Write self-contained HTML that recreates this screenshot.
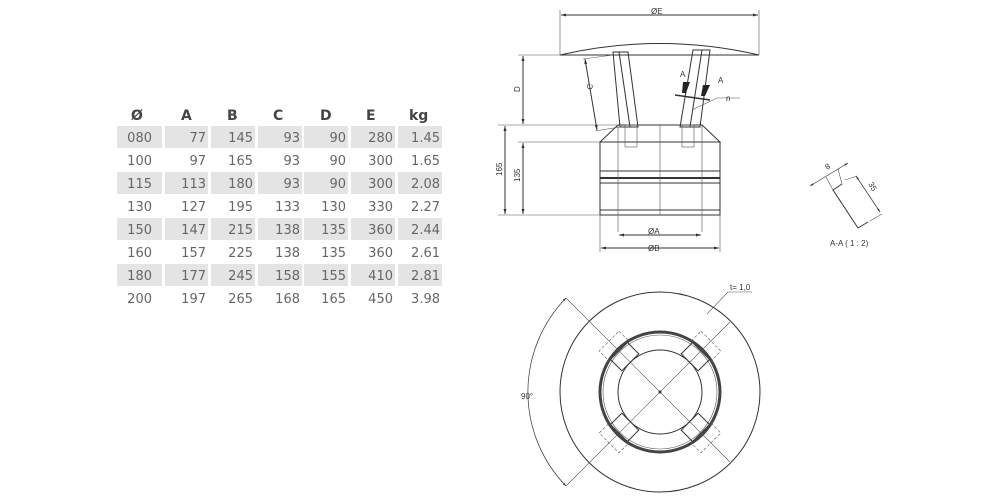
<!DOCTYPE html>
<html><head><meta charset="utf-8"><style>
html,body{margin:0;padding:0;background:#fff;}
svg{display:block;font-family:"Liberation Sans",sans-serif;}
.t{font-size:13px;fill:#666;text-anchor:end;font-family:"DejaVu Sans",sans-serif;}
.h{font-size:14px;font-weight:bold;fill:#444;font-family:"DejaVu Sans",sans-serif;}
.l{stroke:#333;stroke-width:1;fill:none;}
.th{stroke:#555;stroke-width:0.6;fill:none;}
.s{font-size:8px;fill:#333;}
</style></head><body>
<svg width="1000" height="500" viewBox="0 0 1000 500">
<defs><marker id="a" viewBox="0 0 10 10" refX="10" refY="5" markerWidth="6" markerHeight="5" orient="auto-start-reverse"><path d="M0,2 L10,5 L0,8z" fill="#333"/></marker></defs>
<g fill="#e4e4e4">
<rect x="117" y="126" width="45" height="22"/><rect x="165" y="126" width="43" height="22"/><rect x="211" y="126" width="44" height="22"/><rect x="258" y="126" width="44" height="22"/><rect x="304" y="126" width="44" height="22"/><rect x="351" y="126" width="44" height="22"/><rect x="398" y="126" width="44" height="22"/>
<rect x="117" y="172" width="45" height="22"/><rect x="165" y="172" width="43" height="22"/><rect x="211" y="172" width="44" height="22"/><rect x="258" y="172" width="44" height="22"/><rect x="304" y="172" width="44" height="22"/><rect x="351" y="172" width="44" height="22"/><rect x="398" y="172" width="44" height="22"/>
<rect x="117" y="218" width="45" height="22"/><rect x="165" y="218" width="43" height="22"/><rect x="211" y="218" width="44" height="22"/><rect x="258" y="218" width="44" height="22"/><rect x="304" y="218" width="44" height="22"/><rect x="351" y="218" width="44" height="22"/><rect x="398" y="218" width="44" height="22"/>
<rect x="117" y="264" width="45" height="22"/><rect x="165" y="264" width="43" height="22"/><rect x="211" y="264" width="44" height="22"/><rect x="258" y="264" width="44" height="22"/><rect x="304" y="264" width="44" height="22"/><rect x="351" y="264" width="44" height="22"/><rect x="398" y="264" width="44" height="22"/>
</g>
<g class="h"><text x="131" y="120">Ø</text><text x="181" y="120">A</text><text x="227" y="120">B</text><text x="273" y="120">C</text><text x="320" y="120">D</text><text x="366" y="120">E</text><text x="409" y="120">kg</text></g>
<g class="t">
<text x="152" y="142">080</text><text x="206" y="142">77</text><text x="253" y="142">145</text><text x="300" y="142">93</text><text x="346" y="142">90</text><text x="393" y="142">280</text><text x="440" y="142">1.45</text>
<text x="152" y="165">100</text><text x="206" y="165">97</text><text x="253" y="165">165</text><text x="300" y="165">93</text><text x="346" y="165">90</text><text x="393" y="165">300</text><text x="440" y="165">1.65</text>
<text x="152" y="188">115</text><text x="206" y="188">113</text><text x="253" y="188">180</text><text x="300" y="188">93</text><text x="346" y="188">90</text><text x="393" y="188">300</text><text x="440" y="188">2.08</text>
<text x="152" y="211">130</text><text x="206" y="211">127</text><text x="253" y="211">195</text><text x="300" y="211">133</text><text x="346" y="211">130</text><text x="393" y="211">330</text><text x="440" y="211">2.27</text>
<text x="152" y="234">150</text><text x="206" y="234">147</text><text x="253" y="234">215</text><text x="300" y="234">138</text><text x="346" y="234">135</text><text x="393" y="234">360</text><text x="440" y="234">2.44</text>
<text x="152" y="257">160</text><text x="206" y="257">157</text><text x="253" y="257">225</text><text x="300" y="257">138</text><text x="346" y="257">135</text><text x="393" y="257">360</text><text x="440" y="257">2.61</text>
<text x="152" y="280">180</text><text x="206" y="280">177</text><text x="253" y="280">245</text><text x="300" y="280">158</text><text x="346" y="280">155</text><text x="393" y="280">410</text><text x="440" y="280">2.81</text>
<text x="152" y="303">200</text><text x="206" y="303">197</text><text x="253" y="303">265</text><text x="300" y="303">168</text><text x="346" y="303">165</text><text x="393" y="303">450</text><text x="440" y="303">3.98</text>
</g>
<g class="l">
<path d="M560,55 Q660,32 759,55 Z"/>
<line x1="560" y1="10" x2="560" y2="55" class="th"/><line x1="759" y1="10" x2="759" y2="55" class="th"/>
<line x1="561" y1="15" x2="758" y2="15" marker-start="url(#a)" marker-end="url(#a)"/>
<path d="M613,52 L628,52 L638,127 L620,127 Z"/><line x1="619" y1="52" x2="630" y2="127"/>
<path d="M693,50 L710,50 L700,127 L680,127 Z"/><line x1="702" y1="50" x2="690" y2="127"/>
<path d="M618,125 L702,125 L720,142 L600,142 L618,125"/>
<rect x="600" y="142" width="120" height="73"/>
<line x1="600" y1="171" x2="720" y2="171"/><line x1="600" y1="178" x2="720" y2="178" stroke-width="2"/><line x1="600" y1="183" x2="720" y2="183"/>
<line x1="600" y1="210" x2="720" y2="210"/>
<rect x="625" y="125" width="12" height="22" class="th"/><rect x="682" y="125" width="12" height="22" class="th"/>
<line x1="618" y1="125" x2="618" y2="232" class="th"/><line x1="702" y1="125" x2="702" y2="232" class="th"/><line x1="660" y1="125" x2="660" y2="215" class="th"/>
<line x1="600" y1="215" x2="600" y2="252" class="th"/><line x1="720" y1="215" x2="720" y2="252" class="th"/>
<line x1="619" y1="235" x2="701" y2="235" marker-start="url(#a)" marker-end="url(#a)"/>
<line x1="601" y1="248" x2="719" y2="248" marker-start="url(#a)" marker-end="url(#a)"/>
<line x1="518" y1="55" x2="560" y2="55" class="th"/><line x1="498" y1="125" x2="618" y2="125" class="th"/>
<line x1="518" y1="142" x2="600" y2="142" class="th"/><line x1="498" y1="215" x2="600" y2="215" class="th"/>
<line x1="523" y1="56" x2="523" y2="124" marker-start="url(#a)" marker-end="url(#a)"/>
<line x1="505" y1="126" x2="505" y2="214" marker-start="url(#a)" marker-end="url(#a)"/>
<line x1="523" y1="143" x2="523" y2="214" marker-start="url(#a)" marker-end="url(#a)"/>
<line x1="585" y1="59" x2="597" y2="130" marker-start="url(#a)" marker-end="url(#a)"/>
<line x1="583" y1="59" x2="613" y2="55" class="th"/><line x1="595" y1="131" x2="620" y2="127" class="th"/>
<line x1="675" y1="95" x2="710" y2="100" stroke-width="1.5"/>
<path d="M692,110 L717,98 L740,98" class="th"/>
</g>
<path d="M683,82 L690,82 L686,93 L682,93Z" fill="#222"/><path d="M703,85 L710,85 L705,96 L701,96Z" fill="#222"/>
<g class="s"><text x="651" y="14">ØE</text><text x="680" y="77">A</text><text x="718" y="83">A</text><text x="726" y="101">n</text>
<text x="648" y="234">ØA</text><text x="648" y="251">ØB</text>
<text transform="translate(520,92) rotate(-90)">D</text><text transform="translate(502,176) rotate(-90)">165</text><text transform="translate(520,182) rotate(-90)">135</text>
<text transform="translate(592,90) rotate(-80)">C</text></g>
<g class="l">
<path d="M842,184 L833,190 L858,228 L868,222"/>
<line x1="810" y1="186" x2="848" y2="163" marker-start="url(#a)" marker-end="url(#a)" stroke-width="0.7"/>
<line x1="826" y1="177" x2="833" y2="190" class="th"/><line x1="838" y1="169" x2="842" y2="184" class="th"/>
<line x1="856" y1="176" x2="880" y2="212" marker-start="url(#a)" marker-end="url(#a)" stroke-width="0.7"/>
<line x1="845" y1="180" x2="857" y2="176" class="th"/><line x1="870" y1="221" x2="882" y2="214" class="th"/>
</g>
<g class="s"><text transform="translate(827,170) rotate(-30)">8</text><text transform="translate(868,184) rotate(60)">35</text><text x="830" y="246">A-A ( 1 : 2)</text></g>
<g class="l">
<circle cx="660" cy="392" r="100"/>
<circle cx="660" cy="392" r="60" stroke-width="3" stroke="#444"/>
<circle cx="660" cy="392" r="57" class="th"/>
<circle cx="660" cy="392" r="42"/>
<line x1="566" y1="298" x2="730" y2="462" class="th"/><line x1="566" y1="486" x2="730" y2="322" class="th"/>
<g transform="rotate(45 660 392)">
<rect x="648" y="334" width="24" height="16"/><rect x="648" y="434" width="24" height="16"/>
<rect x="602" y="380" width="16" height="24"/><rect x="702" y="380" width="16" height="24"/>
<rect x="646" y="320" width="28" height="14" class="th" stroke-dasharray="3,2"/><rect x="646" y="450" width="28" height="14" class="th" stroke-dasharray="3,2"/>
<rect x="588" y="378" width="14" height="28" class="th" stroke-dasharray="3,2"/><rect x="718" y="378" width="14" height="28" class="th" stroke-dasharray="3,2"/>
</g>
<path d="M566,298 A135,135 0 0 0 566,486" marker-start="url(#a)" marker-end="url(#a)" stroke-width="0.7"/>
<path d="M707,314 L728,292 L752,292" class="th"/>
</g>
<circle cx="660" cy="392" r="1.5" fill="#333"/>
<g class="s"><text x="521" y="399">90°</text><text x="730" y="290">t= 1,0</text></g>
</svg>
</body></html>
